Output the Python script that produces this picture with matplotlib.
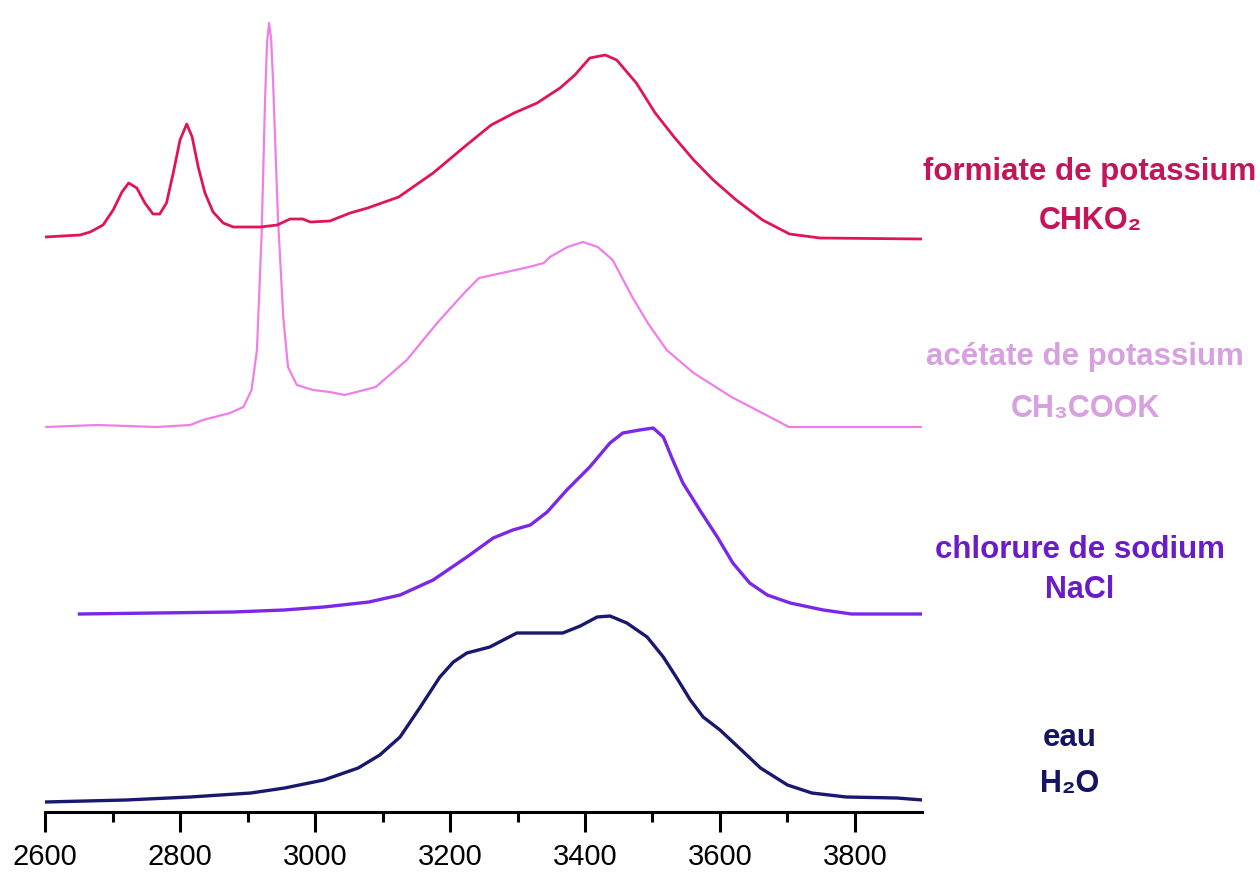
import matplotlib.pyplot as plt
import numpy as np

# Raman O-H stretching band of water and of three salt solutions (a.u.)
eau_x = [2600, 2720, 2815, 2905, 2955, 3013, 3064, 3096, 3126, 3156, 3185, 3205,
         3225, 3259, 3299, 3367, 3393, 3418, 3437, 3462, 3492, 3516, 3536, 3556,
         3575, 3600, 3627, 3660, 3700, 3736, 3787, 3862, 3900]
eau_y = [0.0, 0.02, 0.05, 0.09, 0.14, 0.22, 0.34, 0.47, 0.65, 0.95, 1.25, 1.40,
         1.49, 1.55, 1.69, 1.69, 1.76, 1.85, 1.86, 1.79, 1.65, 1.45, 1.24, 1.02,
         0.85, 0.72, 0.55, 0.34, 0.17, 0.09, 0.05, 0.04, 0.02]

nacl_x = [2651, 2879, 2954, 3013, 3080, 3126, 3175, 3225, 3264, 3293, 3319, 3344,
          3373, 3407, 3437, 3456, 3481, 3501, 3516, 3530, 3545, 3570, 3596, 3619,
          3644, 3670, 3704, 3753, 3795, 3900]
nacl_y = [0.0, 0.02, 0.04, 0.07, 0.12, 0.19, 0.34, 0.57, 0.76, 0.84, 0.89, 1.02,
          1.24, 1.47, 1.71, 1.81, 1.84, 1.86, 1.77, 1.54, 1.31, 1.04, 0.77, 0.51,
          0.31, 0.19, 0.11, 0.04, 0.0, 0.0]

acetate_x = [2602, 2677, 2766, 2815, 2834, 2874, 2894, 2906, 2914, 2921, 2926,
             2929, 2932, 2935, 2938, 2945, 2953, 2960, 2973, 2997, 3022, 3044,
             3090, 3136, 3181, 3221, 3243, 3277, 3317, 3339, 3348, 3374, 3397,
             3419, 3441, 3459, 3470, 3493, 3521, 3561, 3617, 3674, 3702, 3900]
acetate_y = [0.0, 0.02, 0.0, 0.02, 0.07, 0.14, 0.2, 0.37, 0.77, 1.94, 3.27,
             3.85, 4.04, 3.88, 3.44, 2.10, 1.10, 0.60, 0.42, 0.37, 0.35, 0.32,
             0.40, 0.67, 1.04, 1.34, 1.49, 1.54, 1.60, 1.64, 1.70, 1.80, 1.85,
             1.80, 1.67, 1.44, 1.30, 1.04, 0.77, 0.54, 0.30, 0.10, 0.0, 0.0]

formiate_x = [2600, 2652, 2667, 2686, 2701, 2714, 2724, 2736, 2748, 2760, 2770,
              2780, 2790, 2800, 2810, 2818, 2827, 2837, 2849, 2864, 2879, 2919,
              2944, 2963, 2982, 2993, 3022, 3052, 3078, 3124, 3175, 3221, 3261,
              3295, 3329, 3363, 3385, 3407, 3430, 3447, 3476, 3504, 3532, 3561,
              3590, 3624, 3663, 3703, 3748, 3900]
formiate_y = [0.02, 0.04, 0.07, 0.14, 0.29, 0.47, 0.56, 0.51, 0.36, 0.25, 0.25,
              0.36, 0.66, 0.99, 1.15, 1.02, 0.72, 0.46, 0.27, 0.16, 0.12, 0.12,
              0.14, 0.20, 0.20, 0.17, 0.18, 0.26, 0.31, 0.42, 0.66, 0.92, 1.14,
              1.26, 1.36, 1.51, 1.64, 1.81, 1.84, 1.79, 1.56, 1.26, 1.02, 0.79,
              0.59, 0.39, 0.19, 0.05, 0.01, 0.0]

names = ["eau", "chlorure de sodium", "acétate de potassium", "formiate de potassium"]
formulas = ["H₂O", "NaCl", "CH₃COOK", "CHKO₂"]
xs = [eau_x, nacl_x, acetate_x, formiate_x]
ys = [eau_y, nacl_y, acetate_y, formiate_y]

# vertical stacking of the spectra
offsets = [0.10, 1.98, 3.85, 5.73]
line_colors = ["#18186e", "#7a28e6", "#f07ee8", "#e0145a"]
text_colors = ["#141460", "#6a1cc8", "#d8a0e0", "#c4155a"]
widths = [2.4, 2.4, 1.6, 2.0]
# label centres in figure pixels: (x, name y, formula y)
label_pos = [(1070, 738, 784), (1080, 550, 590), (1085, 357, 409), (1090, 172, 221)]

W, H = 1260, 872
fig = plt.figure(figsize=(W / 100, H / 100), dpi=100)
ax = fig.add_axes([45 / W, 60 / H, 877.5 / W, 812 / H])

for x, y, off, c, lw in zip(xs, ys, offsets, line_colors, widths):
    ax.plot(x, np.array(y) + off, color=c, lw=lw, solid_joinstyle="round")

ax.set_xlim(2600, 3900)
ax.set_ylim(0, 8.12)
for s in ["top", "right", "left"]:
    ax.spines[s].set_visible(False)
ax.spines["bottom"].set_linewidth(2.2)
ax.set_yticks([])
ax.set_xticks(np.arange(2600, 3901, 200))
ax.set_xticks(np.arange(2700, 3900, 200), minor=True)
ax.tick_params(axis="x", which="major", length=14.4, width=2.2, pad=8,
               labelsize=21, direction="out")
ax.tick_params(axis="x", which="minor", length=7.2, width=2.2, direction="out")
for lab in ax.get_xticklabels():
    lab.set_family(["Liberation Sans", "DejaVu Sans"])

for name, formula, (px, ny, fy), tc in zip(names, formulas, label_pos, text_colors):
    fig.text(px / W, 1 - ny / H, name, ha="center", va="center", color=tc,
             fontsize=22.5, fontweight="bold", family=["Liberation Sans", "DejaVu Sans"])
    fig.text(px / W, 1 - fy / H, formula, ha="center", va="center", color=tc,
             fontsize=22, fontweight="bold", family=["Liberation Sans", "DejaVu Sans"])

fig.savefig("out.png", dpi=100)
